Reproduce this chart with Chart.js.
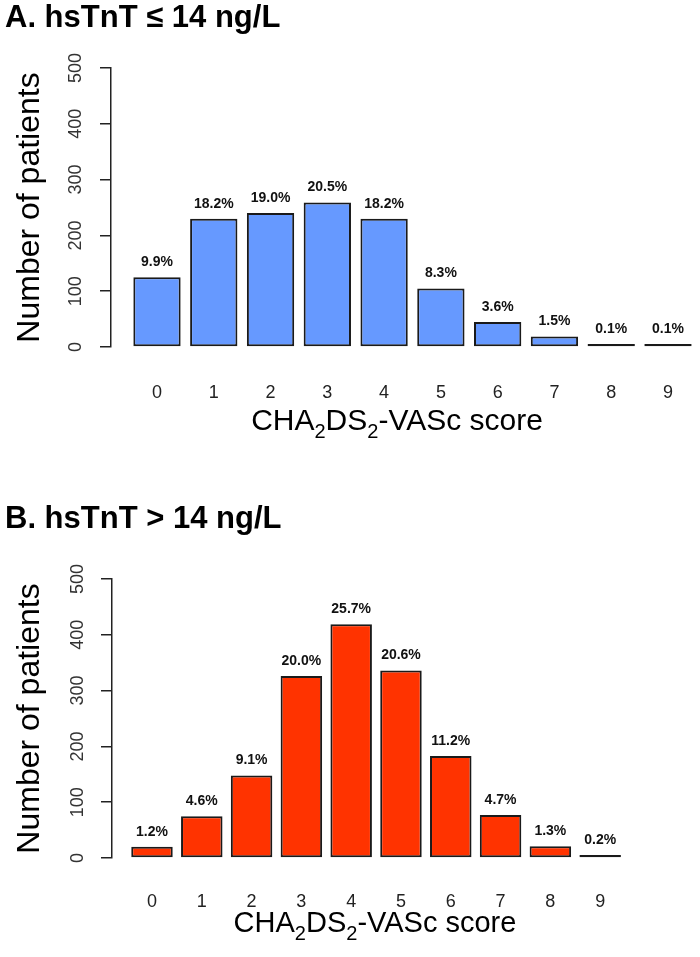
<!DOCTYPE html>
<html><head><meta charset="utf-8">
<script src="https://cdn.jsdelivr.net/npm/chart.js@4.4.1/dist/chart.umd.min.js"></script>
<style>
html,body{margin:0;padding:0;background:#fff;}
#wrap{position:relative;width:700px;height:957px;overflow:hidden;}
canvas{position:absolute;left:0;}
</style>
</head><body>
<div id="wrap">
<canvas id="cA" width="700" height="478" style="top:0;width:700px;height:478px"></canvas>
<canvas id="cB" width="700" height="479" style="top:478px;width:700px;height:479px"></canvas>
</div>
<script>
// ---- data ----
const scores = [0,1,2,3,4,5,6,7,8,9];
const countsA = [125,230,240,259,230,105,45,19,1,1];
const pctA = ["9.9%","18.2%","19.0%","20.5%","18.2%","8.3%","3.6%","1.5%","0.1%","0.1%"];
const countsB = [20,75,148,326,419,336,183,77,21,3];
const pctB = ["1.2%","4.6%","9.1%","20.0%","25.7%","20.6%","11.2%","4.7%","1.3%","0.2%"];
const yTicks = [0,100,200,300,400,500];
const titleA = "A. hsTnT \u2264 14 ng/L";
const titleB = "B. hsTnT > 14 ng/L";
const yTitle = "Number of patients";
const xTitleParts = [["CHA",false],["2",true],["DS",false],["2",true],["-VASc score",false]];

const FONT = "'Liberation Sans', Arial, Helvetica, sans-serif";

const textPlugin = {
  id: 'textPlugin',
  afterDatasetsDraw(chart) {
    const L = chart.options.plugins.textPlugin;
    const ctx = chart.ctx;
    const meta = chart.getDatasetMeta(0);
    ctx.save();
    ctx.font = `bold 14px ${FONT}`;
    ctx.fillStyle = '#111';
    ctx.textAlign = 'center';
    ctx.textBaseline = 'middle';
    meta.data.forEach((bar, i) => {
      const top = Math.min(bar.y, bar.base);
      ctx.fillText(L.pct[i], bar.x, top - 15);
    });
    ctx.restore();
  },
  afterDraw(chart) {
    const L = chart.options.plugins.textPlugin;
    const ctx = chart.ctx;
    ctx.save();
    ctx.fillStyle = '#000';
    ctx.textBaseline = 'alphabetic';
    ctx.textAlign = 'left';
    ctx.font = `bold 31px ${FONT}`;
    ctx.fillText(L.title, 5, L.titleBase);
    // x axis title with subscripts
    const big = L.xFont, small = Math.round(L.xFont * 0.68);
    let total = 0;
    xTitleParts.forEach(([t, sub]) => {
      ctx.font = `${sub ? small : big}px ${FONT}`;
      total += ctx.measureText(t).width;
    });
    let x = L.xCenter - total / 2;
    xTitleParts.forEach(([t, sub]) => {
      ctx.font = `${sub ? small : big}px ${FONT}`;
      ctx.fillText(t, x, L.xBase + (sub ? Math.round(big * 0.27) : 0));
      x += ctx.measureText(t).width;
    });
    ctx.restore();
  }
};

function makeChart(id, counts, pct, color, L) {
  return new Chart(document.getElementById(id), {
    type: 'bar',
    data: {
      datasets: [{
        data: scores.map((s, i) => ({x: s, y: counts[i]})),
        backgroundColor: color,
        borderColor: '#1a1a1a',
        borderWidth: 2,
        borderSkipped: false,
        categoryPercentage: 1,
        barPercentage: 0.8333,
        minBarLength: 3
      }]
    },
    options: {
      responsive: false,
      animation: false,
      devicePixelRatio: 1,
      layout: {padding: {top: L.top, right: L.right, left: 0, bottom: 0}},
      plugins: {
        legend: {display: false},
        tooltip: {enabled: false},
        title: {display: false},
        textPlugin: {pct: pct, title: L.title, titleBase: L.titleBase, xCenter: L.xCenter, xBase: L.xBase, xFont: L.xFont}
      },
      scales: {
        x: {
          type: 'linear', min: L.xmin, max: L.xmax, offset: false,
          grid: {display: false, offset: false}, border: {display: false},
          afterBuildTicks: s => { s.ticks = scores.map(v => ({value: v})); },
          afterFit: s => { s.height = L.xh; },
          ticks: {font: {family: FONT, size: 18}, color: '#222', padding: L.xpad,
                  minRotation: 0, maxRotation: 0, autoSkip: false,
                  callback: v => String(v)}
        },
        y: {
          min: 0, max: 500,
          afterBuildTicks: s => { s.ticks = yTicks.map(v => ({value: v})); },
          afterFit: s => { s.width = L.yw; },
          grid: {drawOnChartArea: false, drawTicks: true, tickLength: 11, color: '#222', lineWidth: 1.5},
          border: {display: true, color: '#222', width: 1.5},
          ticks: {font: {family: FONT, size: 18}, color: '#333', minRotation: 90, maxRotation: 90,
                  crossAlign: 'center', padding: L.ypad},
          title: {display: true, text: yTitle, font: {family: FONT, size: 32}, color: '#000',
                  padding: {top: 11, bottom: 0}}
        }
      }
    },
    plugins: [textPlugin]
  });
}

makeChart('cA', countsA, pctA, '#6699FF', {
  top: 68, right: 0, xmin: -0.81, xmax: 9.47, xh: 131, xpad: 27, yw: 111, ypad: 9,
  title: titleA, titleBase: 27, xCenter: 397, xBase: 430, xFont: 30
});
makeChart('cB', countsB, pctB, '#FF3300', {
  top: 101, right: 60, xmin: -0.803, xmax: 9.8, xh: 99, xpad: 25, yw: 112, ypad: 8,
  title: titleB, titleBase: 50, xCenter: 375, xBase: 454, xFont: 29
});
</script>
</body></html>
